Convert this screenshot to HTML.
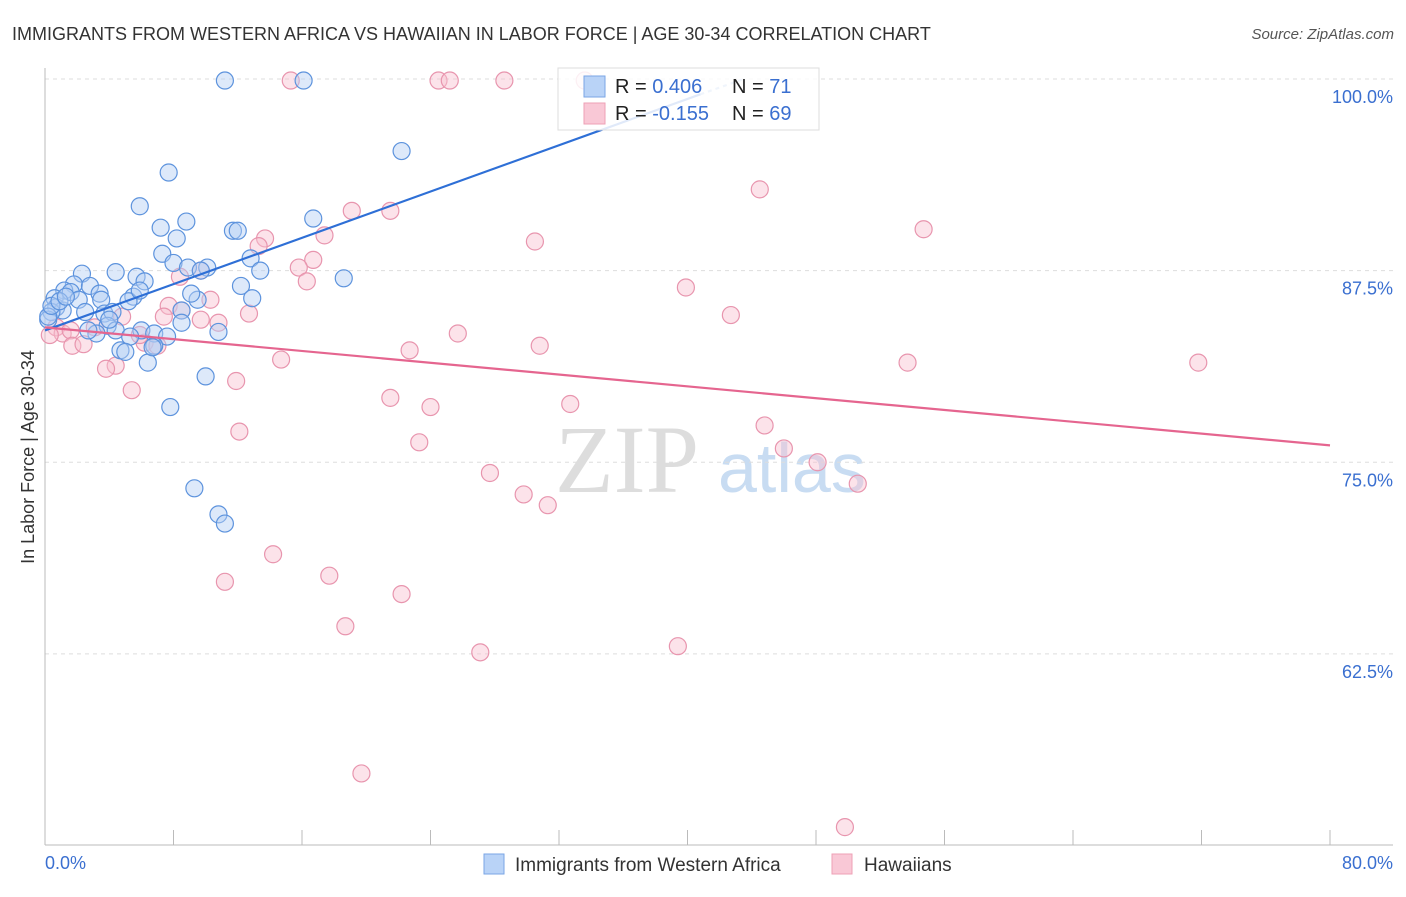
<!DOCTYPE html>
<html><head><meta charset="utf-8"><style>
body{margin:0;background:#fff;font-family:"Liberation Sans",sans-serif}
svg text{font-family:"Liberation Sans",sans-serif}
</style></head><body>
<svg id="c" width="1406" height="892" xmlns="http://www.w3.org/2000/svg">
<text x="12" y="40" font-size="18" fill="#333">IMMIGRANTS FROM WESTERN AFRICA VS HAWAIIAN IN LABOR FORCE | AGE 30-34 CORRELATION CHART</text>
<text x="1394" y="39" font-size="15" fill="#555" font-style="italic" text-anchor="end">Source: ZipAtlas.com</text>
<text x="555" y="492" font-size="96" fill="#ddd" font-family="Liberation Serif" style="font-family:'Liberation Serif',serif">ZIP</text>
<text x="718" y="492" font-size="70" fill="#c8dcf2">atlas</text>
<g id="grid"></g><g id="pts"></g><g id="lines"></g>
<text transform="translate(34,457) rotate(-90)" font-size="18" fill="#333" text-anchor="middle">In Labor Force | Age 30-34</text>
<text x="45" y="869" font-size="18" fill="#3a6fd0">0.0%</text>
<text x="1393" y="869" font-size="18" fill="#3a6fd0" text-anchor="end">80.0%</text>
<g>
<rect x="558" y="68" width="261" height="62" fill="#fff" fill-opacity="0.85" stroke="#ddd"/>
<rect x="584" y="76" width="21" height="21" fill="#b9d3f7" stroke="#7aa6e6"/>
<rect x="584" y="103" width="21" height="21" fill="#f9c8d6" stroke="#eea0b6"/>
<text x="615" y="93" font-size="20" fill="#222">R = <tspan fill="#3a6fd0">0.406</tspan></text>
<text x="732" y="93" font-size="20" fill="#222">N = <tspan fill="#3a6fd0">71</tspan></text>
<text x="615" y="120" font-size="20" fill="#222">R = <tspan fill="#3a6fd0">-0.155</tspan></text>
<text x="732" y="120" font-size="20" fill="#222">N = <tspan fill="#3a6fd0">69</tspan></text>
</g>
<g>
<rect x="484" y="854" width="20" height="20" fill="#b9d3f7" stroke="#7aa6e6"/>
<text x="515" y="871" font-size="19" fill="#333">Immigrants from Western Africa</text>
<rect x="832" y="854" width="20" height="20" fill="#f9c8d6" stroke="#eea0b6"/>
<text x="864" y="871" font-size="19" fill="#333">Hawaiians</text>
</g>
</svg>
<script>
const yTicks=[100,87.5,75,62.5];
const yTickLabels=["100.0%","87.5%","75.0%","62.5%"];
const xTicks=[0,8,16,24,32,40,48,56,64,72,80];
const blueX=[11.2,16.1,22.2,7.7,5.9,8.8,7.2,8.2,11.7,12.0,16.7,7.3,8.0,8.9,10.1,12.8,13.4,18.6,4.4,2.3,5.7,6.2,1.8,2.8,3.4,1.2,1.6,0.6,2.1,3.5,5.5,5.2,9.5,12.2,12.9,9.1,0.7,1.1,0.4,2.5,3.7,4.2,0.2,3.9,4.4,3.2,6.0,6.8,8.5,8.5,10.8,7.6,5.3,6.8,4.7,5.0,6.4,10.0,7.8,9.3,10.8,11.2,0.2,0.4,0.9,2.7,6.7,9.7,4.0,1.3,5.9];
const blueY=[99.9,99.9,95.3,93.9,91.7,90.7,90.3,89.6,90.1,90.1,90.9,88.6,88.0,87.7,87.7,88.3,87.5,87.0,87.4,87.3,87.1,86.8,86.6,86.5,86.0,86.2,86.1,85.7,85.6,85.6,85.8,85.5,85.6,86.5,85.7,86.0,85.1,84.9,84.8,84.8,84.7,84.8,84.3,83.9,83.6,83.4,83.6,83.4,84.9,84.1,83.5,83.2,83.2,82.6,82.3,82.2,81.5,80.6,78.6,73.3,71.6,71.0,84.5,85.2,85.5,83.6,82.5,87.5,84.3,85.8,86.2];
const pinkX=[15.3,24.5,25.2,28.6,33.6,44.5,54.7,19.1,21.5,17.4,30.5,13.7,13.3,16.7,15.8,16.3,8.4,9.7,39.9,10.3,7.7,8.5,7.4,12.7,10.8,42.7,25.7,30.8,22.7,14.7,53.7,71.8,0.7,1.1,1.6,3.1,4.8,1.7,2.4,4.4,3.8,5.4,11.9,6.2,7.0,21.5,24.0,32.7,12.1,23.3,44.8,46.0,48.1,50.6,27.7,29.8,31.3,14.2,11.2,17.7,22.2,18.7,27.1,39.4,19.7,49.8,0.3,5.9,9.7];
const pinkY=[99.9,99.9,99.9,99.9,99.9,92.8,90.2,91.4,91.4,89.8,89.4,89.6,89.1,88.2,87.7,86.8,87.1,87.5,86.4,85.6,85.2,84.9,84.5,84.7,84.1,84.6,83.4,82.6,82.3,81.7,81.5,81.5,83.8,83.4,83.6,83.8,84.5,82.6,82.7,81.3,81.1,79.7,80.3,82.8,82.6,79.2,78.6,78.8,77.0,76.3,77.4,75.9,75.0,73.6,74.3,72.9,72.2,69.0,67.2,67.6,66.4,64.3,62.6,63.0,54.7,51.2,83.3,83.3,84.3];
const blueTrend=[[0,83.6],[40.8,99.0]];
const blueTrendExt=[[40.8,99.0],[43.5,100]];
const pinkTrend=[[0,83.8],[80,76.1]];
const NS="http://www.w3.org/2000/svg";
const X=v=>45+v/80*1285, Y=v=>79+(100-v)*15.33;
function mk(t,a,p){const e=document.createElementNS(NS,t);for(const k in a)e.setAttribute(k,a[k]);p.appendChild(e);return e;}
const g=document.getElementById('grid');
yTicks.forEach((t,i)=>{
 const l=mk('line',{x1:45,x2:1393,y1:Y(t),y2:Y(t),stroke:'#ddd','stroke-dasharray':'4,4'},g);
 
 
 const tx=mk('text',{x:1393,y:Y(t)+24,'font-size':18,fill:'#3a6fd0','text-anchor':'end'},g);
 tx.textContent=yTickLabels[i];
 
 
});
const ax=mk('line',{x1:45,x2:45,y1:68,y2:845,stroke:'#bbb'},g);


const bx=mk('line',{x1:45,x2:1393,y1:845,y2:845,stroke:'#bbb'},g);


xTicks.forEach(t=>{
 const l=mk('line',{x1:X(t),x2:X(t),y1:830,y2:845,stroke:'#bbb'},g);
 
 
});
const p=document.getElementById('pts');
function dots(xs,ys,fill,stroke,name){xs.forEach((x,i)=>{
 const c=mk('circle',{cx:X(x),cy:Y(ys[i]),r:8.5,fill:fill,'fill-opacity':0.45,stroke:stroke,'stroke-width':1.2},p);
 
 
});}
dots(pinkX,pinkY,'#f9c0d0','#e895ae','hawaiian-point');
dots(blueX,blueY,'#b4cff5','#5d93dd','western-africa-point');
const L=document.getElementById('lines');
function ln(pt,col,dash,name){const l=mk('line',{x1:X(pt[0][0]),y1:Y(pt[0][1]),x2:X(pt[1][0]),y2:Y(pt[1][1]),stroke:col,'stroke-width':2.2},L);if(dash)l.setAttribute('stroke-dasharray','4,4');
 
 }
ln(blueTrend,'#2e6fd6',false,'blue-trend-line');
ln(blueTrendExt,'#9dbbe8',true,'blue-trend-extension');
ln(pinkTrend,'#e5658f',false,'pink-trend-line');
</script>
</body></html>
